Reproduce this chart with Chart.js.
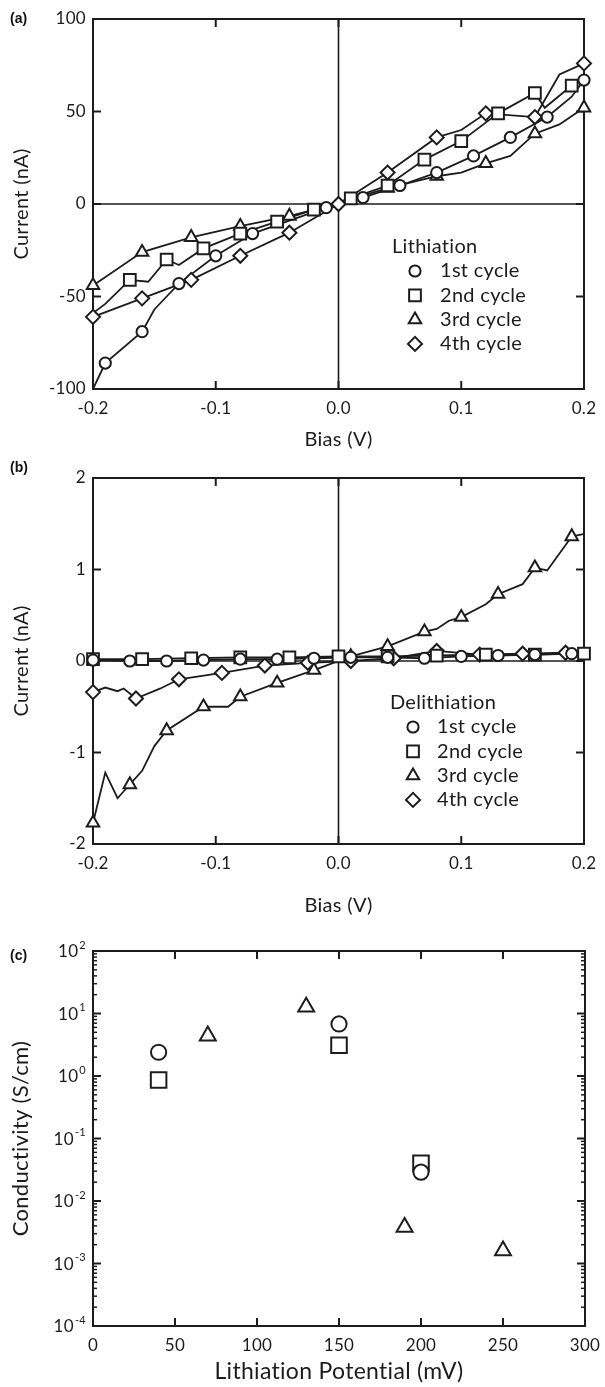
<!DOCTYPE html>
<html>
<head>
<meta charset="utf-8">
<script src="https://cdn.jsdelivr.net/npm/chart.js@4.4.1/dist/chart.umd.min.js"></script>
<style>
  body { margin: 0; background: #fff; width: 605px; height: 1387px; position: relative; overflow: hidden; }
  canvas { position: absolute; left: 0; }
  .tag { position: absolute; left: 10px; font: bold 14px "Liberation Sans", Arial, sans-serif; color: #111; }
</style>
</head>
<body>
<canvas id="chartA" width="605" height="455" style="top:0"></canvas>
<canvas id="chartB" width="605" height="465" style="top:455px"></canvas>
<canvas id="chartC" width="605" height="467" style="top:920px"></canvas>
<div class="tag" style="top:10px">(a)</div>
<div class="tag" style="top:459px">(b)</div>
<div class="tag" style="top:947px">(c)</div>

<script>
const cycleLabels = ["1st cycle", "2nd cycle", "3rd cycle", "4th cycle"];
const biasTicks = [-0.2, -0.1, 0, 0.1, 0.2];
const currentTicksA = [-100, -50, 0, 50, 100];
const currentTicksB = [-2, -1, 0, 1, 2];
const potentialTicks = [0, 50, 100, 150, 200, 250, 300];
const conductivityTicks = [1e-4, 1e-3, 1e-2, 1e-1, 1, 10, 100];

// (a) lithiation: bias (V), current (nA), 1 = marker drawn, 0 = bend in the line only
const lit1Bias = [-0.2, -0.19, -0.16, -0.15, -0.14, -0.13, -0.10, -0.07, -0.04, -0.01, 0.02, 0.05, 0.08, 0.11, 0.14, 0.17, 0.19, 0.2];
const lit1Cur  = [-100, -86, -69, -57, -50, -43, -28, -16, -9, -2, 3.5, 10, 17, 26, 36, 47, 58, 67];
const lit1Mark = [0, 1, 1, 0, 0, 1, 1, 1, 0, 1, 1, 1, 1, 1, 1, 1, 0, 1];

const lit2Bias = [-0.2, -0.19, -0.17, -0.155, -0.14, -0.13, -0.11, -0.08, -0.05, -0.02, 0.01, 0.04, 0.07, 0.10, 0.13, 0.16, 0.168, 0.19, 0.2];
const lit2Cur  = [-59, -54, -41, -42, -30, -33, -24, -16, -9.5, -3, 3, 10, 24, 34, 49, 60, 52, 64, 67];
const lit2Mark = [0, 0, 1, 0, 1, 0, 1, 1, 1, 1, 1, 1, 1, 1, 1, 1, 0, 1, 0];

const lit3Bias = [-0.2, -0.16, -0.12, -0.08, -0.04, 0, 0.04, 0.08, 0.10, 0.12, 0.14, 0.16, 0.18, 0.2];
const lit3Cur  = [-44, -26, -18, -12, -6.5, 0.5, 8.6, 15, 17, 22, 26, 38, 43, 52];
const lit3Mark = [1, 1, 1, 1, 1, 0, 1, 1, 0, 1, 0, 1, 0, 1];

const lit4Bias = [-0.2, -0.16, -0.12, -0.08, -0.04, 0, 0.04, 0.08, 0.10, 0.12, 0.16, 0.18, 0.2];
const lit4Cur  = [-61, -51, -41, -28, -15.5, 0, 17, 36, 40, 49, 47, 70, 76];
const lit4Mark = [1, 1, 1, 1, 1, 1, 1, 1, 0, 1, 1, 0, 1];

// (b) delithiation
const del1Bias = [-0.2, -0.17, -0.14, -0.11, -0.08, -0.05, -0.02, 0.01, 0.04, 0.07, 0.10, 0.13, 0.16, 0.19, 0.2];
const del1Cur  = [0.01, 0.0, 0.0, 0.01, 0.02, 0.02, 0.03, 0.04, 0.04, 0.03, 0.05, 0.06, 0.07, 0.08, 0.09];
const del1Mark = [1, 1, 1, 1, 1, 1, 1, 1, 1, 1, 1, 1, 1, 1, 0];

const del2Bias = [-0.2, -0.16, -0.12, -0.08, -0.04, 0, 0.04, 0.08, 0.12, 0.16, 0.2];
const del2Cur  = [0.02, 0.02, 0.03, 0.04, 0.04, 0.05, 0.05, 0.06, 0.07, 0.07, 0.08];
const del2Mark = [1, 1, 1, 1, 1, 1, 1, 1, 1, 1, 1];

const del3Bias = [-0.2, -0.19, -0.18, -0.17, -0.16, -0.15, -0.14, -0.11, -0.09, -0.08, -0.05, -0.02, 0.01, 0.04, 0.07, 0.08, 0.09, 0.10, 0.12, 0.13, 0.15, 0.16, 0.17, 0.19, 0.2];
const del3Cur  = [-1.77, -1.22, -1.5, -1.35, -1.2, -0.93, -0.76, -0.5, -0.5, -0.39, -0.24, -0.1, 0.05, 0.16, 0.32, 0.35, 0.44, 0.48, 0.62, 0.73, 0.84, 1.02, 0.99, 1.36, 1.39];
const del3Mark = [1, 0, 0, 1, 0, 0, 1, 1, 0, 1, 1, 1, 1, 1, 1, 0, 0, 1, 0, 1, 0, 1, 0, 1, 0];

const del4Bias = [-0.2, -0.19, -0.18, -0.175, -0.165, -0.145, -0.13, -0.095, -0.06, -0.025, 0.01, 0.045, 0.08, 0.115, 0.15, 0.185, 0.2];
const del4Cur  = [-0.34, -0.29, -0.33, -0.3, -0.41, -0.3, -0.2, -0.13, -0.05, -0.02, 0.0, 0.03, 0.11, 0.07, 0.08, 0.09, 0.1];
const del4Mark = [1, 0, 0, 0, 1, 0, 1, 1, 1, 1, 1, 1, 1, 1, 1, 1, 0];

// (c) conductivity (S/cm) vs lithiation potential (mV)
const cond1Pot = [40, 150, 200];
const cond1Val = [2.4, 6.8, 0.029];
const cond2Pot = [40, 150, 200];
const cond2Val = [0.86, 3.1, 0.04];
const cond3Pot = [70, 130, 190, 250];
const cond3Val = [4.4, 12.7, 0.0038, 0.0016];

const INK = "#1c1c1c";
const FONT = "Lato, 'Open Sans', sans-serif";

const smallMarkers = [
  { pointStyle: "circle", radius: 5.6 },
  { pointStyle: "rect", radius: 8.3 },
  { pointStyle: "triangle", radius: 7.2 },
  { pointStyle: "rectRot", radius: 7 },
];
const bigMarkers = [
  { pointStyle: "circle", radius: 7.6 },
  { pointStyle: "rect", radius: 11 },
  { pointStyle: "triangle", radius: 9.2 },
];

function pts(xs, ys) {
  return xs.map((v, i) => ({ x: v, y: ys[i] }));
}

function markerSet(data, m) {
  return {
    data: data,
    showLine: false,
    pointStyle: m.pointStyle,
    pointRadius: m.radius,
    pointBorderWidth: 2,
    pointBorderColor: INK,
    pointBackgroundColor: "#fff",
    order: 1,
    clip: false,
  };
}

function ivDatasets(series) {
  const lines = series.map(s => ({
    data: pts(s[0], s[1]),
    showLine: true,
    pointRadius: 0,
    borderColor: INK,
    borderWidth: 1.8,
    tension: 0,
    order: 2,
    clip: false,
  }));
  const marks = series.map((s, i) =>
    markerSet(pts(s[0], s[1]).filter((p, j) => s[2][j]), smallMarkers[i])
  );
  return lines.concat(marks);
}

function line(ctx, x1, y1, x2, y2) {
  ctx.beginPath();
  ctx.moveTo(x1, y1);
  ctx.lineTo(x2, y2);
  ctx.stroke();
}

// frame, inward ticks, zero lines and the in-plot legend
const framePlugin = {
  id: "frame",
  beforeDraw(chart) {
    // a little tracking keeps Lato from joining "ti"
    chart.ctx.letterSpacing = "0.3px";
  },
  beforeDatasetsDraw(chart, args, opts) {
    const { ctx, chartArea: a, scales: { x, y } } = chart;
    ctx.save();
    ctx.strokeStyle = INK;
    ctx.lineWidth = 1.6;
    if (opts.zeroLines) {
      const x0 = x.getPixelForValue(0), y0 = y.getPixelForValue(0);
      line(ctx, x0, a.top, x0, a.bottom);
      line(ctx, a.left, y0, a.right, y0);
    }
    ctx.lineWidth = 2;
    ctx.strokeRect(a.left, a.top, a.width, a.height);
    opts.xTicks.forEach(v => {
      const px = x.getPixelForValue(v);
      line(ctx, px, a.bottom, px, a.bottom - 8);
      line(ctx, px, a.top, px, a.top + 8);
    });
    opts.yTicks.forEach(v => {
      const py = y.getPixelForValue(v);
      line(ctx, a.left, py, a.left + 8, py);
      line(ctx, a.right, py, a.right - 8, py);
    });
    if (opts.logMinor) {
      ctx.lineWidth = 1.5;
      for (let d = -4; d < 2; d++) {
        for (let k = 2; k <= 9; k++) {
          const py = y.getPixelForValue(k * Math.pow(10, d));
          line(ctx, a.left, py, a.left + 4, py);
          line(ctx, a.right, py, a.right - 4, py);
        }
      }
    }
    ctx.restore();
  },
  afterDatasetsDraw(chart, args, opts) {
    const { ctx } = chart;
    ctx.save();
    if (opts.logLabels) {
      const a = chart.chartArea, y = chart.scales.y;
      ctx.fillStyle = INK;
      ctx.textBaseline = "middle";
      ctx.textAlign = "right";
      opts.yTicks.forEach(v => {
        const py = y.getPixelForValue(v);
        const exp = String(Math.round(Math.log10(v)));
        ctx.font = "11px " + FONT;
        const ew = ctx.measureText(exp).width;
        ctx.fillText(exp, a.left - 7, py - 6);
        ctx.font = "17px " + FONT;
        ctx.fillText("10", a.left - 8 - ew, py + 1);
      });
    }
    const lg = opts.legend;
    if (lg) {
      ctx.fillStyle = INK;
      ctx.textBaseline = "middle";
      ctx.textAlign = "left";
      ctx.font = "20px " + FONT;
      ctx.fillText(lg.title, lg.x, lg.y);
      cycleLabels.forEach((label, i) => {
        const ry = lg.y + 24 + i * 24.3;
        ctx.strokeStyle = INK;
        ctx.fillStyle = "#fff";
        ctx.lineWidth = 2;
        Chart.helpers.drawPoint(ctx, {
          pointStyle: smallMarkers[i].pointStyle,
          radius: smallMarkers[i].radius,
          rotation: 0,
          borderWidth: 2,
        }, lg.x + 23, ry);
        ctx.fillStyle = INK;
        ctx.fillText(label, lg.x + lg.textOffset, ry);
      });
    }
    ctx.restore();
  },
};

function fixedTicks(values) {
  return scale => { scale.ticks = values.map(v => ({ value: v })); };
}

function ivOptions(yTicks, top, xHeight, titleBottom, legend) {
  return {
    responsive: false,
    animation: false,
    events: [],
    layout: { padding: { top: top, right: 21, left: 0, bottom: 0 } },
    plugins: {
      legend: { display: false },
      tooltip: { enabled: false },
      frame: { zeroLines: true, xTicks: biasTicks, yTicks: yTicks, legend: legend },
    },
    scales: {
      x: {
        type: "linear",
        min: -0.2,
        max: 0.2,
        afterBuildTicks: fixedTicks(biasTicks),
        afterFit: s => { s.height = xHeight; s.paddingLeft = 0; s.paddingRight = 0; },
        grid: { display: false, drawTicks: false },
        border: { display: false },
        ticks: {
          autoSkip: false,
          maxRotation: 0,
          padding: 9,
          color: INK,
          font: { family: FONT, size: 17 },
          callback: v => v.toFixed(1),
        },
        title: { display: true, text: "Bias (V)", color: INK, font: { family: FONT, size: 20 }, padding: { bottom: titleBottom } },
      },
      y: {
        type: "linear",
        min: yTicks[0],
        max: yTicks[yTicks.length - 1],
        afterBuildTicks: fixedTicks(yTicks),
        afterFit: s => { s.width = 93; s.paddingTop = 0; s.paddingBottom = 0; },
        grid: { display: false, drawTicks: false },
        border: { display: false },
        ticks: {
          autoSkip: false,
          padding: 7,
          color: INK,
          font: { family: FONT, size: 17 },
          callback: v => String(v),
        },
        title: { display: true, text: "Current (nA)", color: INK, font: { family: FONT, size: 20 }, padding: { top: 10 } },
      },
    },
  };
}

new Chart(document.getElementById("chartA"), {
  type: "scatter",
  data: {
    datasets: ivDatasets([
      [lit1Bias, lit1Cur, lit1Mark],
      [lit2Bias, lit2Cur, lit2Mark],
      [lit3Bias, lit3Cur, lit3Mark],
      [lit4Bias, lit4Cur, lit4Mark],
    ]),
  },
  options: ivOptions(currentTicksA, 19, 66, 3, { title: "Lithiation", x: 392, y: 247, textOffset: 48 }),
  plugins: [framePlugin],
});

new Chart(document.getElementById("chartB"), {
  type: "scatter",
  data: {
    datasets: ivDatasets([
      [del1Bias, del1Cur, del1Mark],
      [del2Bias, del2Cur, del2Mark],
      [del3Bias, del3Cur, del3Mark],
      [del4Bias, del4Cur, del4Mark],
    ]),
  },
  options: ivOptions(currentTicksB, 23, 76, 2, { title: "Delithiation", x: 390, y: 248, textOffset: 47 }),
  plugins: [framePlugin],
});

new Chart(document.getElementById("chartC"), {
  type: "scatter",
  data: {
    datasets: [
      markerSet(pts(cond1Pot, cond1Val), bigMarkers[0]),
      markerSet(pts(cond2Pot, cond2Val), bigMarkers[1]),
      markerSet(pts(cond3Pot, cond3Val), bigMarkers[2]),
    ],
  },
  options: {
    responsive: false,
    animation: false,
    events: [],
    layout: { padding: { top: 31, right: 20, left: 0, bottom: 0 } },
    plugins: {
      legend: { display: false },
      tooltip: { enabled: false },
      frame: { xTicks: potentialTicks, yTicks: conductivityTicks, logMinor: true, logLabels: true },
    },
    scales: {
      x: {
        type: "linear",
        min: 0,
        max: 300,
        afterBuildTicks: fixedTicks(potentialTicks),
        afterFit: s => { s.height = 61; s.paddingLeft = 0; s.paddingRight = 0; },
        grid: { display: false, drawTicks: false },
        border: { display: false },
        ticks: { autoSkip: false, maxRotation: 0, padding: 9, color: INK, font: { family: FONT, size: 17 }, callback: v => String(v) },
        title: { display: true, text: "Lithiation Potential (mV)", color: INK, font: { family: FONT, size: 23 }, padding: { bottom: 2 } },
      },
      y: {
        type: "logarithmic",
        min: 1e-4,
        max: 100,
        afterBuildTicks: fixedTicks(conductivityTicks),
        afterFit: s => { s.width = 93; s.paddingTop = 0; s.paddingBottom = 0; },
        grid: { display: false, drawTicks: false },
        border: { display: false },
        ticks: { display: false },
        title: { display: true, text: "Conductivity (S/cm)", color: INK, font: { family: FONT, size: 22 }, padding: { top: 8 } },
      },
    },
  },
  plugins: [framePlugin],
});
</script>
</body>
</html>
